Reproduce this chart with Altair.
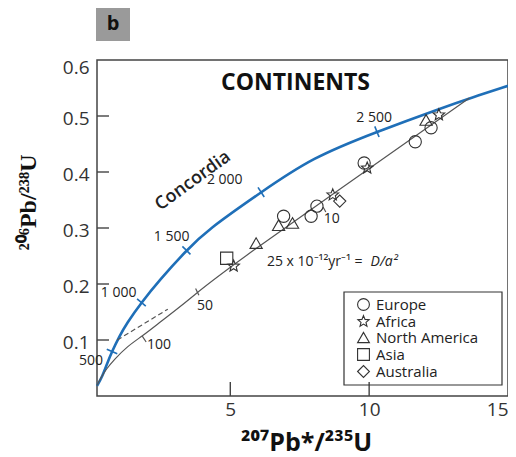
import altair as alt
import pandas as pd

# ---------------- values ----------------
# Concordia curve (blue)
conc_x = [0.2, 0.39, 0.564, 0.741, 1.0, 1.272, 1.8, 2.45, 3.42, 4.16, 6.11, 7.95, 10.28, 12.65, 13.71, 15.0]
conc_y = [0.018, 0.0345, 0.058, 0.0795, 0.106, 0.130, 0.167, 0.207, 0.260, 0.296, 0.364, 0.426, 0.472, 0.515, 0.533, 0.554]

# Age ticks on concordia (Ma)
age_labels = ["500", "1 000", "1 500", "2 000", "2 500"]
age_x = [0.741, 1.80, 3.42, 6.11, 10.28]
age_y = [0.0795, 0.167, 0.260, 0.364, 0.472]
age_angle = [23, 40, 45, 57, 68]
age_label_x = [-0.02, 0.98, 2.89, 4.80, 10.18]
age_label_y = [0.062, 0.1845, 0.2845, 0.386, 0.497]

# Continuous diffusion curve (grey)
diff_x = [0.2, 0.33, 0.55, 0.8, 1.27, 1.86, 2.45, 3.0, 3.63, 4.87, 13.61]
diff_y = [0.019, 0.032, 0.049, 0.064, 0.088, 0.108, 0.131, 0.152, 0.177, 0.228, 0.532]

# Dashed chord extension
chord_x = [0.93, 2.75]
chord_y = [0.100, 0.155]

# Ticks on the diffusion curve
da_labels = ["100", "50", "10"]
da_x = [1.83, 3.75, 8.34]
da_y = [0.107, 0.192, 0.3375]
da_x2 = [1.97, 3.87, 8.44]
da_y2 = [0.0964, 0.180, 0.3286]
da_label_x = [2.43, 4.09, 8.65]
da_label_y = [0.0916, 0.161, 0.3166]

# Samples
continents = ["Europe", "Africa", "North America", "Asia", "Australia"]
sample_cont = ["Asia", "Africa", "North America", "North America", "Europe", "North America",
               "Europe", "Europe", "Africa", "Australia", "Europe", "Africa",
               "Europe", "North America", "Europe", "Africa"]
sample_x = [4.87, 5.12, 5.93, 6.74, 6.92, 7.24, 7.91, 8.12, 8.69, 8.94, 9.82, 9.93, 11.66, 12.05, 12.23, 12.51]
sample_y = [0.246, 0.232, 0.273, 0.305, 0.321, 0.309, 0.321, 0.339, 0.359, 0.348, 0.416, 0.407, 0.454, 0.493, 0.479, 0.502]

x_ticks = [5, 10, 15]
y_ticks = [0.1, 0.2, 0.3, 0.4, 0.5, 0.6]

STAR = "M0,-1L0.26,-0.36L0.95,-0.31L0.42,0.14L0.59,0.81L0,0.44L-0.59,0.81L-0.42,0.14L-0.95,-0.31L-0.26,-0.36Z"

W, H = 411, 336
FONT = "Open Sans"

xs = alt.Scale(domain=[0.2, 15], nice=False, zero=False)
ys = alt.Scale(domain=[0, 0.6], nice=False, zero=False)

x_axis = alt.Axis(values=x_ticks, title="²⁰⁷Pb*/²³⁵U", ticks=False, domain=False, grid=False,
                  labelFontSize=19, labelFont=FONT, labelColor="#333", labelPadding=4, labelFlush=3,
                  titleFont=FONT, titleFontSize=25, titleFontWeight="bold", titleColor="#111",
                  titleX=209, titleY=46, titleAlign="center", titleBaseline="middle")
y_axis = alt.Axis(values=y_ticks, format=".1f", title="²⁰⁶Pb/²³⁸U", ticks=False, domain=False, grid=False,
                  labelFontSize=19, labelFont=FONT, labelColor="#333", labelPadding=8,
                  labelFlush=True, labelFlushOffset=4, labelOffset=2,
                  titleFont="Liberation Serif", titleFontSize=24, titleFontWeight="bold", titleColor="#111",
                  titleAngle=270, titleX=-69, titleY=142, titleAlign="center", titleBaseline="middle")


def X(f):
    return alt.X(f, type="quantitative", scale=xs, axis=x_axis)


def Y(f):
    return alt.Y(f, type="quantitative", scale=ys, axis=y_axis)


conc_df = pd.DataFrame({"x": conc_x, "y": conc_y})
diff_df = pd.DataFrame({"x": diff_x, "y": diff_y})
chord_df = pd.DataFrame({"x": chord_x, "y": chord_y})
age_df = pd.DataFrame({"x": age_x, "y": age_y, "a": age_angle, "lab": age_labels,
                       "lx": age_label_x, "ly": age_label_y})
da_df = pd.DataFrame({"x": da_x, "y": da_y, "x2": da_x2, "y2": da_y2, "lab": da_labels,
                      "lx": da_label_x, "ly": da_label_y})
samp_df = pd.DataFrame({"Continent": sample_cont, "x": sample_x, "y": sample_y})
one = pd.DataFrame({"k": [0]})

BLUE = "#1f6fb8"
GREY = "#555555"

conc = alt.Chart(conc_df).mark_line(color=BLUE, strokeWidth=2.6, interpolate="basis").encode(
    x=X("x"), y=Y("y"))
diff = alt.Chart(diff_df).mark_line(color=GREY, strokeWidth=1.2, interpolate="basis").encode(
    x=X("x"), y=Y("y"))
chord = alt.Chart(chord_df).mark_line(color=GREY, strokeWidth=1.2, strokeDash=[5, 3]).encode(
    x=X("x"), y=Y("y"))

age_ticks = alt.Chart(age_df).mark_point(shape="M-1,0L1,0", size=130, color=BLUE, strokeWidth=1.6,
                                         filled=False, opacity=1).encode(
    x=X("x"), y=Y("y"), angle=alt.Angle("a:Q", scale=None))
age_text = alt.Chart(age_df).mark_text(font=FONT, fontSize=14, color="#222").encode(
    x=X("lx"), y=Y("ly"), text="lab:N")

da_ticks = alt.Chart(da_df).mark_rule(color=GREY, strokeWidth=1.2).encode(
    x=X("x"), y=Y("y"), x2="x2", y2="y2")
da_text = alt.Chart(da_df).mark_text(font=FONT, fontSize=14, color="#222").encode(
    x=X("lx"), y=Y("ly"), text="lab:N")

points = alt.Chart(samp_df).mark_point(filled=False, color="#333", strokeWidth=1.1, opacity=1,
                                       size=150).encode(
    x=X("x"), y=Y("y"),
    shape=alt.Shape("Continent:N",
                    scale=alt.Scale(domain=continents,
                                    range=["circle", STAR, "triangle-up", "square", "diamond"]),
                    legend=alt.Legend(orient="none", legendX=252, legendY=230, title=None,
                                      labelFont=FONT, labelFontSize=15, labelColor="#222",
                                      symbolSize=140, symbolStrokeColor="#333", symbolStrokeWidth=1.1,
                                      symbolFillColor="transparent",
                                      rowPadding=0, padding=7, labelOffset=5)),
)

legend_box = alt.Chart(one).mark_rect(filled=False, stroke="#333", strokeWidth=1.2).encode(
    x=alt.value(247), x2=alt.value(405), y=alt.value(232), y2=alt.value(325))

ytick_df = pd.DataFrame({"v": y_ticks[:-1]})
ytick = alt.Chart(ytick_df).mark_rule(color="#444", strokeWidth=1.4).encode(
    y=Y("v"), x=alt.value(0), x2=alt.value(12))
xtick_df = pd.DataFrame({"v": x_ticks[:-1]})
xtick = alt.Chart(xtick_df).mark_rule(color="#444", strokeWidth=1.4).encode(
    x=X("v"), y=alt.value(H), y2=alt.value(H - 14))

ann_df = pd.DataFrame({"x": [7.35], "y": [0.559], "t": ["CONTINENTS"]})
title_txt = alt.Chart(ann_df).mark_text(font=FONT, fontSize=23, fontWeight="bold", color="#111").encode(
    x=X("x"), y=Y("y"), text="t:N")

conc_lab_df = pd.DataFrame({"x": [3.66], "y": [0.384], "t": ["Concordia"]})
conc_lab = alt.Chart(conc_lab_df).mark_text(font=FONT, fontSize=18, fontWeight=600, color="#222",
                                             angle=324).encode(x=X("x"), y=Y("y"), text="t:N")

eq_df = pd.DataFrame({"x": [6.32], "y": [0.239], "t": ["25 x 10⁻¹²yr⁻¹ ="]})
eq = alt.Chart(eq_df).mark_text(font=FONT, fontSize=14, color="#222", align="left").encode(
    x=X("x"), y=Y("y"), text="t:N")
eq2_df = pd.DataFrame({"x": [10.05], "y": [0.239], "t": ["D/a²"]})
eq2 = alt.Chart(eq2_df).mark_text(font=FONT, fontSize=14, color="#222", align="left",
                                  fontStyle="italic").encode(x=X("x"), y=Y("y"), text="t:N")

b_box = alt.Chart(one).mark_rect(fill="#9a9a9a").encode(
    x=alt.value(-1), x2=alt.value(33), y=alt.value(-52), y2=alt.value(-19))
b_txt = alt.Chart(one).mark_text(text="b", font=FONT, fontSize=20, fontWeight="bold", color="#111").encode(
    x=alt.value(16), y=alt.value(-36))

chart = alt.layer(
    conc, diff, chord, da_ticks, age_ticks, points, age_text, da_text,
    title_txt, conc_lab, eq, eq2, ytick, xtick, legend_box, b_box, b_txt
).properties(
    width=W, height=H,
    autosize=alt.AutoSizeParams(type="none"),
    padding={"left": 89, "top": 52, "right": 0, "bottom": 60},
).configure_view(stroke="#444", strokeWidth=1.5)

chart.save("out.html", embed_options={"renderer": "svg", "actions": False})
